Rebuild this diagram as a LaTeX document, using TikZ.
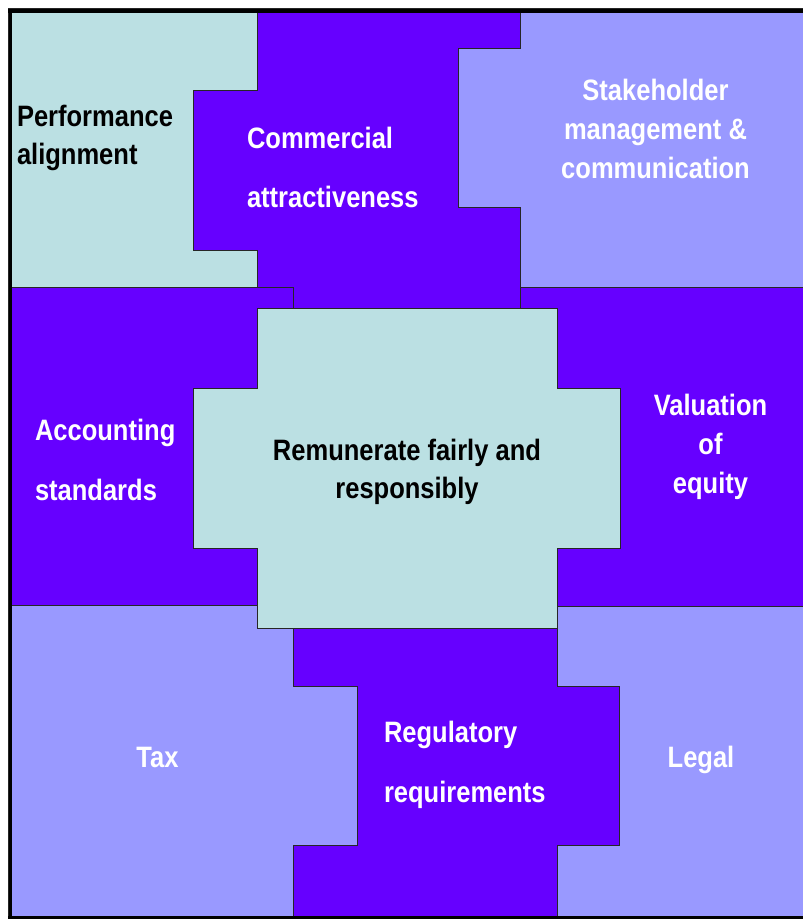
\documentclass[tikz,border=0pt]{standalone}
\usepackage{fontspec}
\setmainfont{Liberation Sans}[FakeStretch=0.865]
\definecolor{cyanA}{HTML}{BBE0E3}
\definecolor{purpA}{HTML}{6600FF}
\definecolor{periA}{HTML}{9999FF}
\begin{document}
\begin{tikzpicture}[x=1pt,y=-1pt,
  piece/.style={draw=black!85, line width=1pt, line join=miter},
  lbl/.style={font=\bfseries\fontsize{29.5}{39}\selectfont, inner sep=0pt, outer sep=0pt},
  tight/.style={font=\bfseries\fontsize{29.5}{38}\selectfont},
  wide/.style={font=\bfseries\fontsize{29.5}{59.5}\selectfont},
  frame/.style={draw=black, line width=3.5pt}]
\useasboundingbox (0,0) rectangle (803,919);
\fill[white] (0,0) rectangle (803,919);
% Performance alignment
\filldraw[piece, fill=cyanA] (8,8) -- (257,8) -- (257,90) -- (193,90) -- (193,250) -- (257,250) -- (257,287) -- (8,287) -- cycle;
% Commercial attractiveness
\filldraw[piece, fill=purpA] (257,8) -- (520,8) -- (520,48) -- (458,48) -- (458,207) -- (520,207) -- (520,308) -- (293,308) -- (293,287) -- (257,287) -- (257,250) -- (193,250) -- (193,90) -- (257,90) -- cycle;
% Stakeholder
\filldraw[piece, fill=periA] (520,8) -- (806,8) -- (806,287) -- (520,287) -- (520,207) -- (458,207) -- (458,48) -- (520,48) -- cycle;
% Accounting standards
\filldraw[piece, fill=purpA] (8,287) -- (293,287) -- (293,308) -- (257,308) -- (257,388) -- (193,388) -- (193,548) -- (257,548) -- (257,605) -- (8,605) -- cycle;
% Valuation of equity
\filldraw[piece, fill=purpA] (520,287) -- (806,287) -- (806,606) -- (557,606) -- (557,548) -- (620,548) -- (620,388) -- (557,388) -- (557,308) -- (520,308) -- cycle;
% Legal
\filldraw[piece, fill=periA] (557,606) -- (806,606) -- (806,922) -- (557,922) -- (557,845) -- (619,845) -- (619,686) -- (557,686) -- (557,628) -- cycle;
% Regulatory requirements
\filldraw[piece, fill=purpA] (293,628) -- (557,628) -- (557,686) -- (619,686) -- (619,845) -- (557,845) -- (557,922) -- (293,922) -- (293,845) -- (357,845) -- (357,686) -- (293,686) -- cycle;
% Tax
\filldraw[piece, fill=periA] (8,605) -- (257,605) -- (257,628) -- (293,628) -- (293,686) -- (357,686) -- (357,845) -- (293,845) -- (293,922) -- (8,922) -- cycle;
% Centre
\filldraw[piece, fill=cyanA] (257,308) -- (557,308) -- (557,388) -- (620,388) -- (620,548) -- (557,548) -- (557,628) -- (257,628) -- (257,548) -- (193,548) -- (193,388) -- (257,388) -- cycle;
% outer frame
\draw[frame] (10.5,9) -- (10.5,919);
\draw[frame] (8,11) -- (806,11);
\draw[frame] (8,917.5) -- (806,917.5);
% labels (multi-line nodes: base anchor = baseline of last line)
\node[lbl, tight, anchor=base west, align=left] (perf) at (17,164) {Performance\\alignment};
\node[lbl, wide, text=white, anchor=base west, align=left] (comm) at (247,207.5) {Commercial\\attractiveness};
\node[lbl, text=white, anchor=base, align=center] (stake) at (655.5,178) {Stakeholder\\management \&\\communication};
\node[lbl, wide, text=white, anchor=base west, align=left] (acct) at (35,500) {Accounting\\standards};
\node[lbl, tight, anchor=base, align=center] (rem) at (407,498) {Remunerate fairly and\\responsibly};
\node[lbl, text=white, anchor=base, align=center] (val) at (710.5,493) {Valuation\\of\\equity};
\node[lbl, text=white, anchor=base] (tax) at (157.5,767) {Tax};
\node[lbl, wide, text=white, anchor=base west, align=left] (reg) at (384,802) {Regulatory\\requirements};
\node[lbl, text=white, anchor=base] (legal) at (701,767) {Legal};
\end{tikzpicture}
\end{document}
